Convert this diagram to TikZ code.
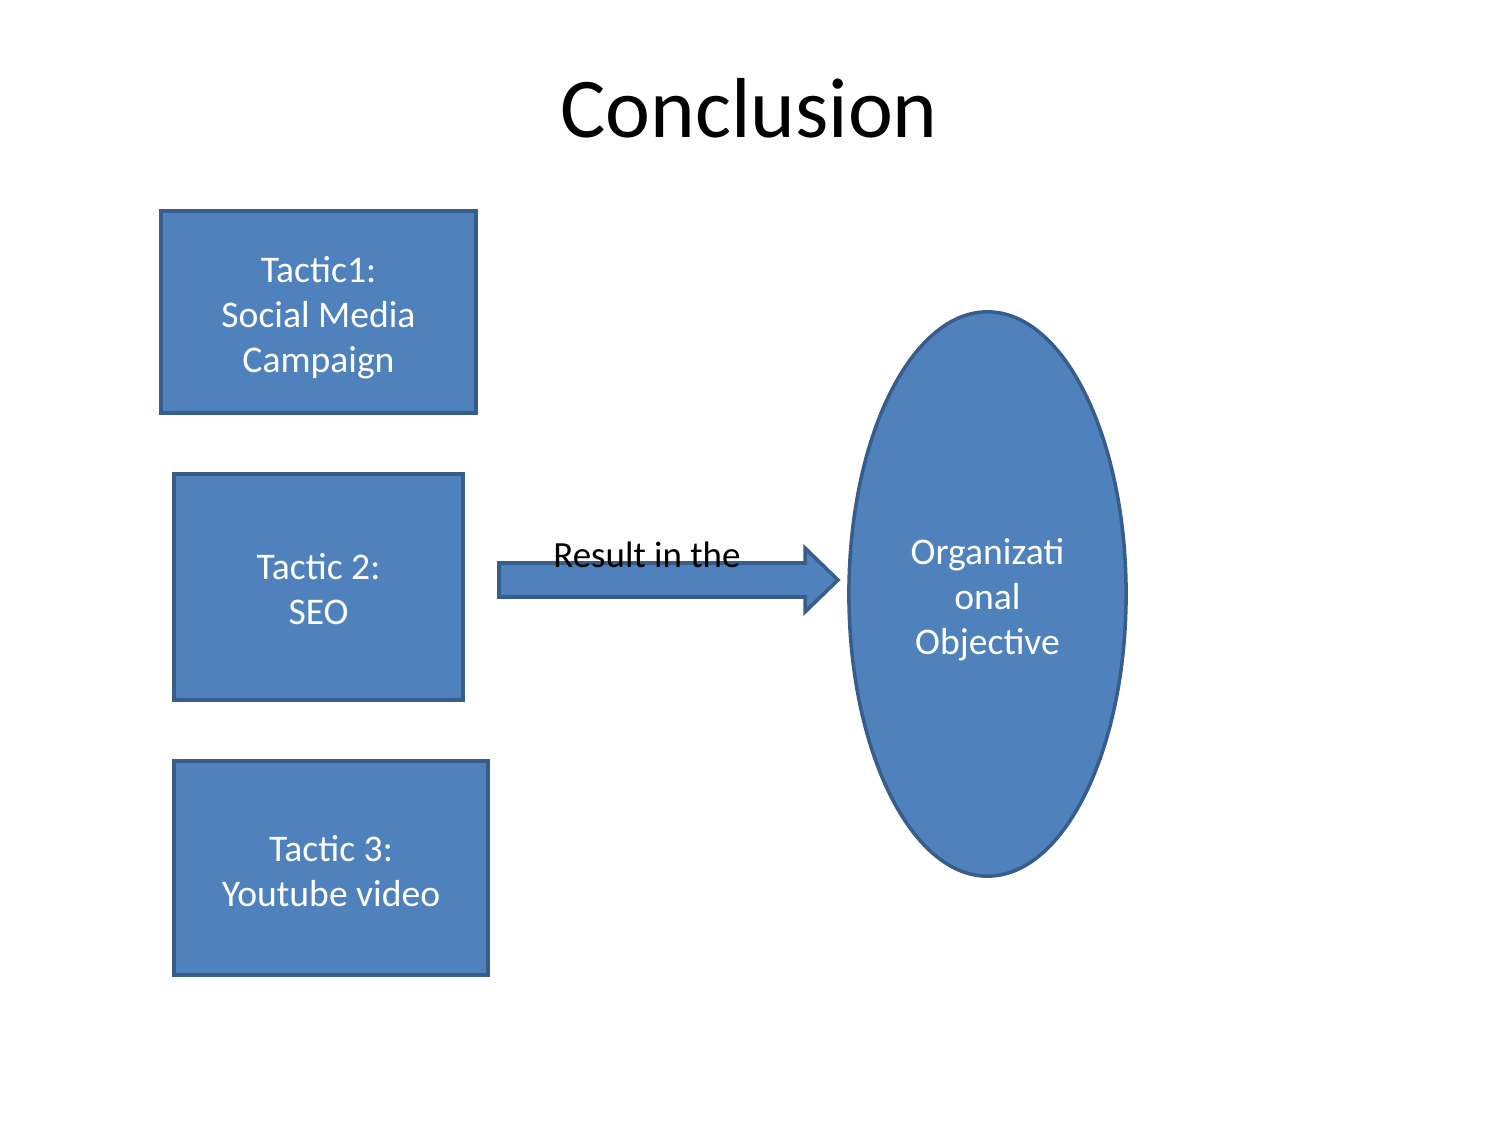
\documentclass[tikz,border=0pt]{standalone}
\usepackage{fontspec}
\setmainfont{Carlito}
\usepackage{tikz}
\usetikzlibrary{positioning,shapes.geometric}
\definecolor{fillblue}{HTML}{4F81BD}
\definecolor{bordblue}{HTML}{385D8A}

\begin{document}
\begin{tikzpicture}[x=0.01cm,y=-0.01cm,
  tactic/.style={draw=bordblue,line width=1pt,fill=fillblue,inner sep=0pt},
  goal/.style={ellipse,draw=bordblue,line width=1pt,fill=fillblue,inner sep=0pt},
  txt/.style={align=center,text=white,inner sep=0pt,font=\fontsize{10.7}{12.8}\selectfont,yshift=-1.6pt},
  blockarr/.style={draw=bordblue,line width=1pt,fill=fillblue,line join=miter},
  lab/.style={font=\fontsize{10.5}{12}\selectfont,inner sep=0pt},
  ttl/.style={font=\fontsize{24.2}{28}\selectfont,inner sep=0pt}]
  \useasboundingbox (0,0) rectangle (1500,1125);
  \node[ttl,anchor=base] (title) at (749,138) {Conclusion};
  \node[tactic,minimum width=3.15cm,minimum height=2.02cm] (t1) at (318.5,312) {};
  \node[tactic,minimum width=2.89cm,minimum height=2.26cm] (t2) at (318.5,587) {};
  \node[tactic,minimum width=3.14cm,minimum height=2.14cm] (t3) at (331,868) {};
  \node[goal,minimum width=2.77cm,minimum height=5.64cm] (obj) at (987.5,594) {};
  \node[txt] (t1txt) at (t1) {Tactic1:\\Social Media\\Campaign};
  \node[txt,yshift=1pt] (t2txt) at (t2) {Tactic 2:\\SEO};
  \node[txt,yshift=0.6pt] (t3txt) at (t3) {Tactic 3:\\Youtube video};
  \node[txt] (objtxt) at (obj) {Organizati\\onal\\Objective};
  \coordinate (tail) at (499,563);
  \draw[blockarr] (tail) -- ++(306,0) -- ++(0,-15) -- ++(33,32) -- ++(-33,32) -- ++(0,-15)
    -- ++(-306,0) -- cycle;
  \node[lab,anchor=base] (res) at (647,568) {Result in the};
\end{tikzpicture}
\end{document}
